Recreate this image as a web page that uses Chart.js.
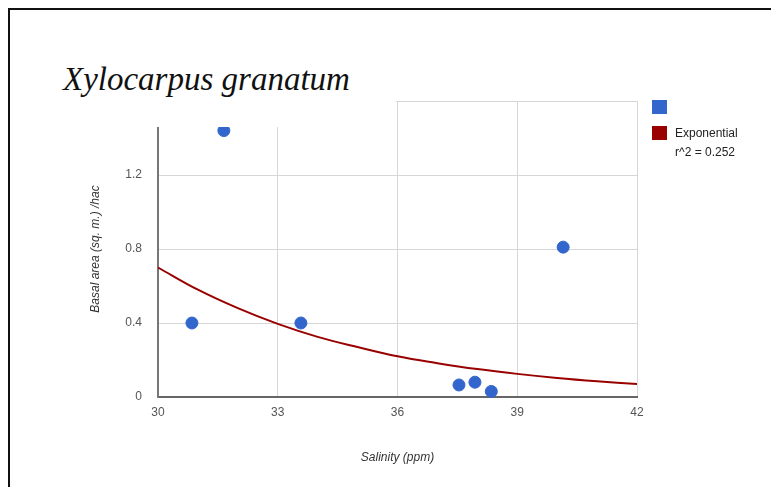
<!DOCTYPE html>
<html lang="en">
<head>
    <meta charset="UTF-8">
    <title>Xylocarpus granatum</title>
    <script src="https://cdn.jsdelivr.net/npm/chart.js"></script>
    <style>
        html, body { margin: 0; padding: 0; background: #fff; }
        .wrap {
            position: relative;
            width: 771px;
            height: 487px;
            overflow: hidden;
        }
        .frame {
            position: absolute;
            left: 8px;
            top: 8px;
            width: 800px;
            height: 500px;
            border-left: 2px solid #111;
            border-top: 2px solid #111;
            pointer-events: none;
        }
        .title-box {
            position: absolute;
            left: 10px;
            top: 10px;
            width: 386px;
            height: 117px;
            background: #fff;
        }
        .title-box span {
            position: absolute;
            left: 53px;
            top: 51px;
            font-family: 'Liberation Serif', serif;
            font-style: italic;
            font-size: 33px;
            color: #111;
            white-space: nowrap;
        }
        .legend {
            position: absolute;
            left: 652px;
            top: 100px;
            font-family: 'Liberation Sans', Arial, sans-serif;
            font-size: 12px;
            color: #222;
        }
        .legend .row { position: relative; height: 26px; }
        .legend .sw { position: absolute; left: 0; top: 0; width: 15px; height: 14px; }
        .legend .txt { position: absolute; left: 23px; line-height: 19px; white-space: nowrap; }
    </style>
</head>
<body>
<div class="wrap">
    <canvas id="chart" width="771" height="487"></canvas>
    <div class="title-box"><span>Xylocarpus granatum</span></div>
    <div class="legend" id="legend"></div>
    <div class="frame"></div>
</div>
<script>
    // measured points
    const salinity = [30.85, 31.65, 33.58, 37.54, 37.94, 38.35, 40.15];
    const basalArea = [0.40, 1.44, 0.40, 0.065, 0.08, 0.03, 0.81];

    // exponential trendline
    const trendX = [30, 31, 32, 33, 34, 35, 36, 37, 38, 39, 40, 41, 42];
    const trendY = [0.70, 0.58, 0.48, 0.395, 0.325, 0.27, 0.22, 0.183, 0.151, 0.125, 0.103, 0.085, 0.07];
    const trendLabel = ['Exponential', 'r^2 = 0.252'];

    const xTicks = [30, 33, 36, 39, 42];
    const yTicks = [0, 0.4, 0.8, 1.2, 1.6];

    const blue = '#3366cc';
    const red = '#990000';

    const ctx = document.getElementById('chart').getContext('2d');
    const chart = new Chart(ctx, {
        type: 'scatter',
        data: {
            datasets: [{
                label: '',
                data: salinity.map((x, i) => ({ x: x, y: basalArea[i] })),
                backgroundColor: blue,
                borderColor: blue,
                pointRadius: 6,
                pointHoverRadius: 6,
                order: 1
            }, {
                label: trendLabel.join('\n'),
                type: 'line',
                data: trendX.map((x, i) => ({ x: x, y: trendY[i] })),
                borderColor: red,
                backgroundColor: red,
                borderWidth: 2,
                pointRadius: 0,
                tension: 0.4,
                fill: false,
                order: 2
            }]
        },
        options: {
            responsive: false,
            animation: false,
            clip: false,
            layout: { padding: { left: 84, top: 101, right: 134, bottom: 18 } },
            plugins: {
                legend: { display: false },
                tooltip: { enabled: false }
            },
            scales: {
                x: {
                    type: 'linear',
                    min: 30,
                    max: 42,
                    afterBuildTicks: (s) => { s.ticks = xTicks.map(v => ({ value: v })); },
                    afterFit: (s) => { s.height = 72; },
                    grid: { color: '#d6d6d6', drawTicks: false },
                    border: { color: '#666', width: 2 },
                    ticks: {
                        padding: 8,
                        color: '#555',
                        font: { family: 'Liberation Sans', size: 12 }
                    },
                    title: {
                        display: true,
                        text: 'Salinity (ppm)',
                        color: '#333',
                        padding: 4,
                        font: { family: 'Liberation Sans', size: 12, style: 'italic' }
                    }
                },
                y: {
                    type: 'linear',
                    min: 0,
                    max: 1.6,
                    afterBuildTicks: (s) => { s.ticks = yTicks.map(v => ({ value: v })); },
                    afterFit: (s) => { s.width = 74; },
                    grid: { color: '#d6d6d6', drawTicks: false },
                    border: { color: '#777', width: 2 },
                    ticks: {
                        padding: 16,
                        color: '#555',
                        font: { family: 'Liberation Sans', size: 12 },
                        callback: (v) => v === 0 ? '0' : v.toFixed(1)
                    },
                    title: {
                        display: true,
                        text: 'Basal area (sq. m.) /hac',
                        color: '#333',
                        padding: 4,
                        font: { family: 'Liberation Sans', size: 12, style: 'italic' }
                    }
                }
            }
        }
    });

    // legend built from the datasets
    const legend = document.getElementById('legend');
    chart.data.datasets.forEach((ds) => {
        const row = document.createElement('div');
        row.className = 'row';
        const sw = document.createElement('div');
        sw.className = 'sw';
        sw.style.background = ds.borderColor;
        row.appendChild(sw);
        ds.label.split('\n').forEach((t, i) => {
            if (!t) return;
            const el = document.createElement('div');
            el.className = 'txt';
            el.style.top = (-2 + i * 19) + 'px';
            el.textContent = t;
            row.appendChild(el);
        });
        legend.appendChild(row);
    });
</script>
</body>
</html>
